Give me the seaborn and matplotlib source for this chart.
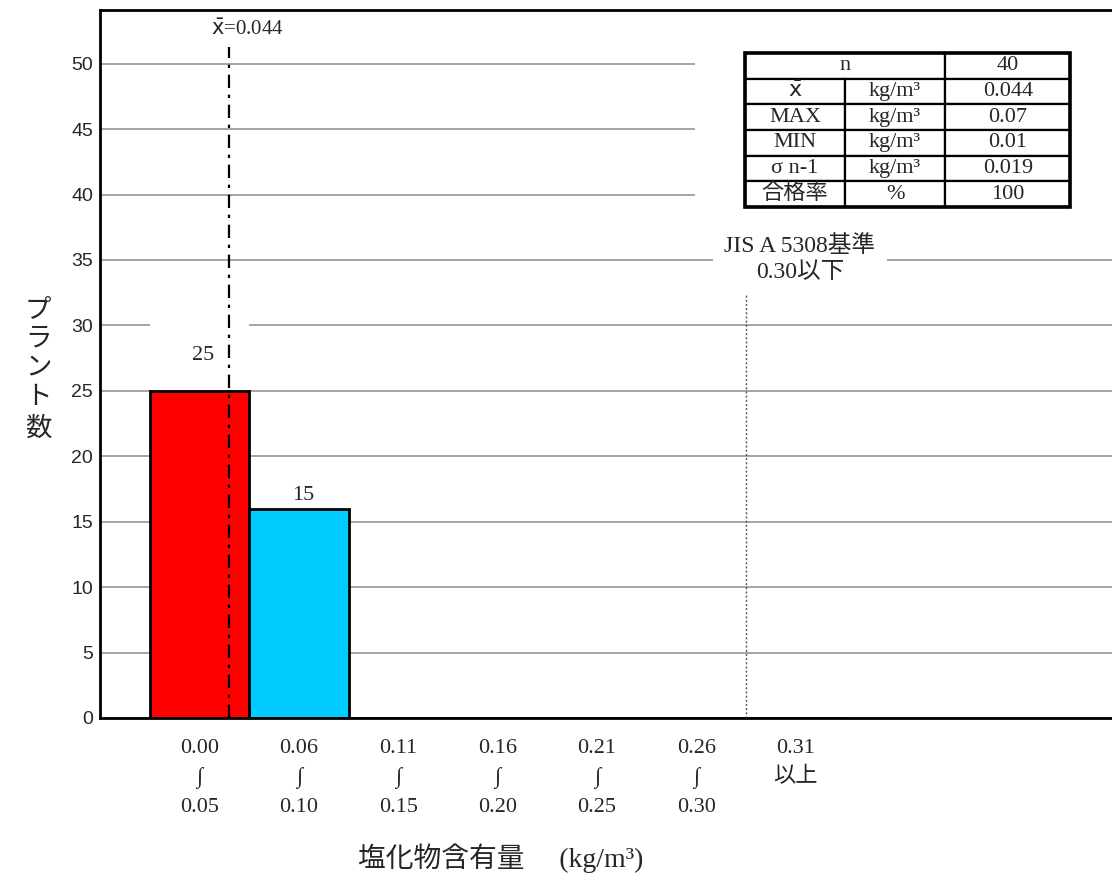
import numpy as np
import pandas as pd
import seaborn as sns
import matplotlib.pyplot as plt
from matplotlib.patches import Rectangle

# data
bins = ["0.00\n∫\n0.05", "0.06\n∫\n0.10", "0.11\n∫\n0.15", "0.16\n∫\n0.20",
        "0.21\n∫\n0.25", "0.26\n∫\n0.30", "0.31\n以上"]
counts = [25, 16, 0, 0, 0, 0, 0]
bar_labels = ["25", "15"]
bar_colors = ["#ff0000", "#00ccff", "white", "white", "white", "white", "white"]
bin_edges = [0.0, 0.055, 0.105, 0.155, 0.205, 0.255, 0.305, 0.355]
mean_val = 0.044
jis_limit = 0.305

stat_names = ["n", "$\\bar{\\mathsf{x}}$", "MAX", "MIN", "σ n-1", "合格率"]
stat_units = ["", "kg/m³", "kg/m³", "kg/m³", "kg/m³", "%"]
stat_values = ["40", "0.044", "0.07", "0.01", "0.019", "100"]

serif = ["Liberation Serif", "Noto Sans CJK JP", "DejaVu Sans"]
sns.set_style("white")
plt.rcParams["font.family"] = serif

df = pd.DataFrame({"bin": bins, "count": counts})

fig = plt.figure(figsize=(11.12, 8.75), dpi=100)
ax = fig.add_axes([100 / 1112, 157 / 875, 1014 / 1112, 708 / 875])

sns.barplot(data=df, x="bin", y="count", hue="bin", palette=bar_colors,
            legend=False, width=1.0, edgecolor="black", linewidth=2,
            saturation=1, ax=ax, zorder=2)

ax.set_xlim(-1.0, 9.2)
ax.set_ylim(0, 54.1)

# grid
ax.set_axisbelow(True)
ax.set_yticks(np.arange(0, 51, 5))
ax.yaxis.grid(True, color="#8c8c8c", linewidth=1.1)
ax.tick_params(axis="y", length=0, pad=5, labelsize=14)
for t in ax.get_yticklabels():
    t.set_fontfamily("Liberation Sans")

# x ticks: boundaries as major ticks, labels centred on bins
pos = np.arange(len(bins))
edges_pos = np.arange(-0.5, len(bins))
ax.set_xticks(edges_pos, labels=[""] * len(edges_pos))
ax.set_xticks(pos, labels=bins, minor=True)
ax.tick_params(axis="x", which="major", direction="out", length=9, width=2)
ax.tick_params(axis="x", which="minor", length=0, pad=15, labelsize=16)
for t in ax.get_xticklabels(minor=True):
    t.set_linespacing(1.6)

for s in ["left", "top", "bottom"]:
    ax.spines[s].set_linewidth(2)
    ax.spines[s].set_color("black")
ax.spines["right"].set_visible(False)

# bar value labels with white masks
label_y = [27.7, 17.0]
for i, (lab, y) in enumerate(zip(bar_labels, label_y)):
    ax.add_patch(Rectangle((i - 0.5, y - 1.4), 1.0, 4.0, facecolor="white",
                           edgecolor="none", zorder=1))
    ax.text(i + 0.04, y, lab, ha="center", va="center", fontsize=16, zorder=4)

# mean line
mean_x = np.interp(mean_val, bin_edges, np.arange(-0.5, len(bin_edges) - 0.5))
ax.vlines(mean_x, 0, 51.3, colors="black", linewidth=1.6,
          linestyles=(0, (6, 3, 1.5, 3)), zorder=3)
ax.text(mean_x - 0.18, 52.6, "$\\bar{\\mathsf{x}}$=0.044", ha="left",
        va="center", fontsize=15)

# JIS limit
jis_x = np.interp(jis_limit, bin_edges, np.arange(-0.5, len(bin_edges) - 0.5))
ax.vlines(jis_x, 0, 33.1, colors="#555555", linewidth=1, linestyles=(0, (1.5, 1.5)),
          zorder=3)
ax.text(jis_x + 0.54, 35.1, "JIS A 5308基準\n0.30以下", ha="center", va="center",
        fontsize=17, linespacing=1.3,
        bbox=dict(boxstyle="square,pad=0.5", facecolor="white", edgecolor="none"),
        zorder=4)

# statistics table
ax.add_patch(Rectangle((0.587, 0.70), 0.413, 0.285, transform=ax.transAxes,
                       facecolor="white", edgecolor="none", zorder=1))
cells = [[stat_names[i] if i else "", stat_units[i], stat_values[i]]
         for i in range(len(stat_names))]
tb_box = [0.636, 0.722, 0.321, 0.217]
tb = ax.table(cellText=cells, cellLoc="center", bbox=tb_box,
              colWidths=[0.3077, 0.3077, 0.3846])
tb.auto_set_font_size(False)
tb.set_fontsize(16)
tb.set_zorder(5)
for (r, c), cell in tb.get_celld().items():
    cell.set_linewidth(1.6)
    cell.set_edgecolor("black")
    cell.PAD = 0.02
tb[0, 0].visible_edges = "BTL"
tb[0, 1].visible_edges = "BTR"
ax.text(tb_box[0] + tb_box[2] * 0.3077, tb_box[1] + tb_box[3] * 11 / 12,
        stat_names[0], transform=ax.transAxes, ha="center", va="center",
        fontsize=16, zorder=6)
ax.add_patch(Rectangle(tb_box[:2], tb_box[2], tb_box[3], transform=ax.transAxes,
                       fill=False, edgecolor="black", linewidth=2.6, zorder=6))

# axis labels
ax.set_xlabel("")
ax.set_ylabel("")
fig.text(501 / 1112, (875 - 858) / 875, "塩化物含有量　 (kg/m³)", ha="center",
         va="center", fontsize=20)
fig.text(38 / 1112, (875 - 370) / 875, "プ\nラ\nン\nト\n数", ha="center",
         va="center", fontsize=19, linespacing=1.4)

fig.savefig("out.png", dpi=100)
